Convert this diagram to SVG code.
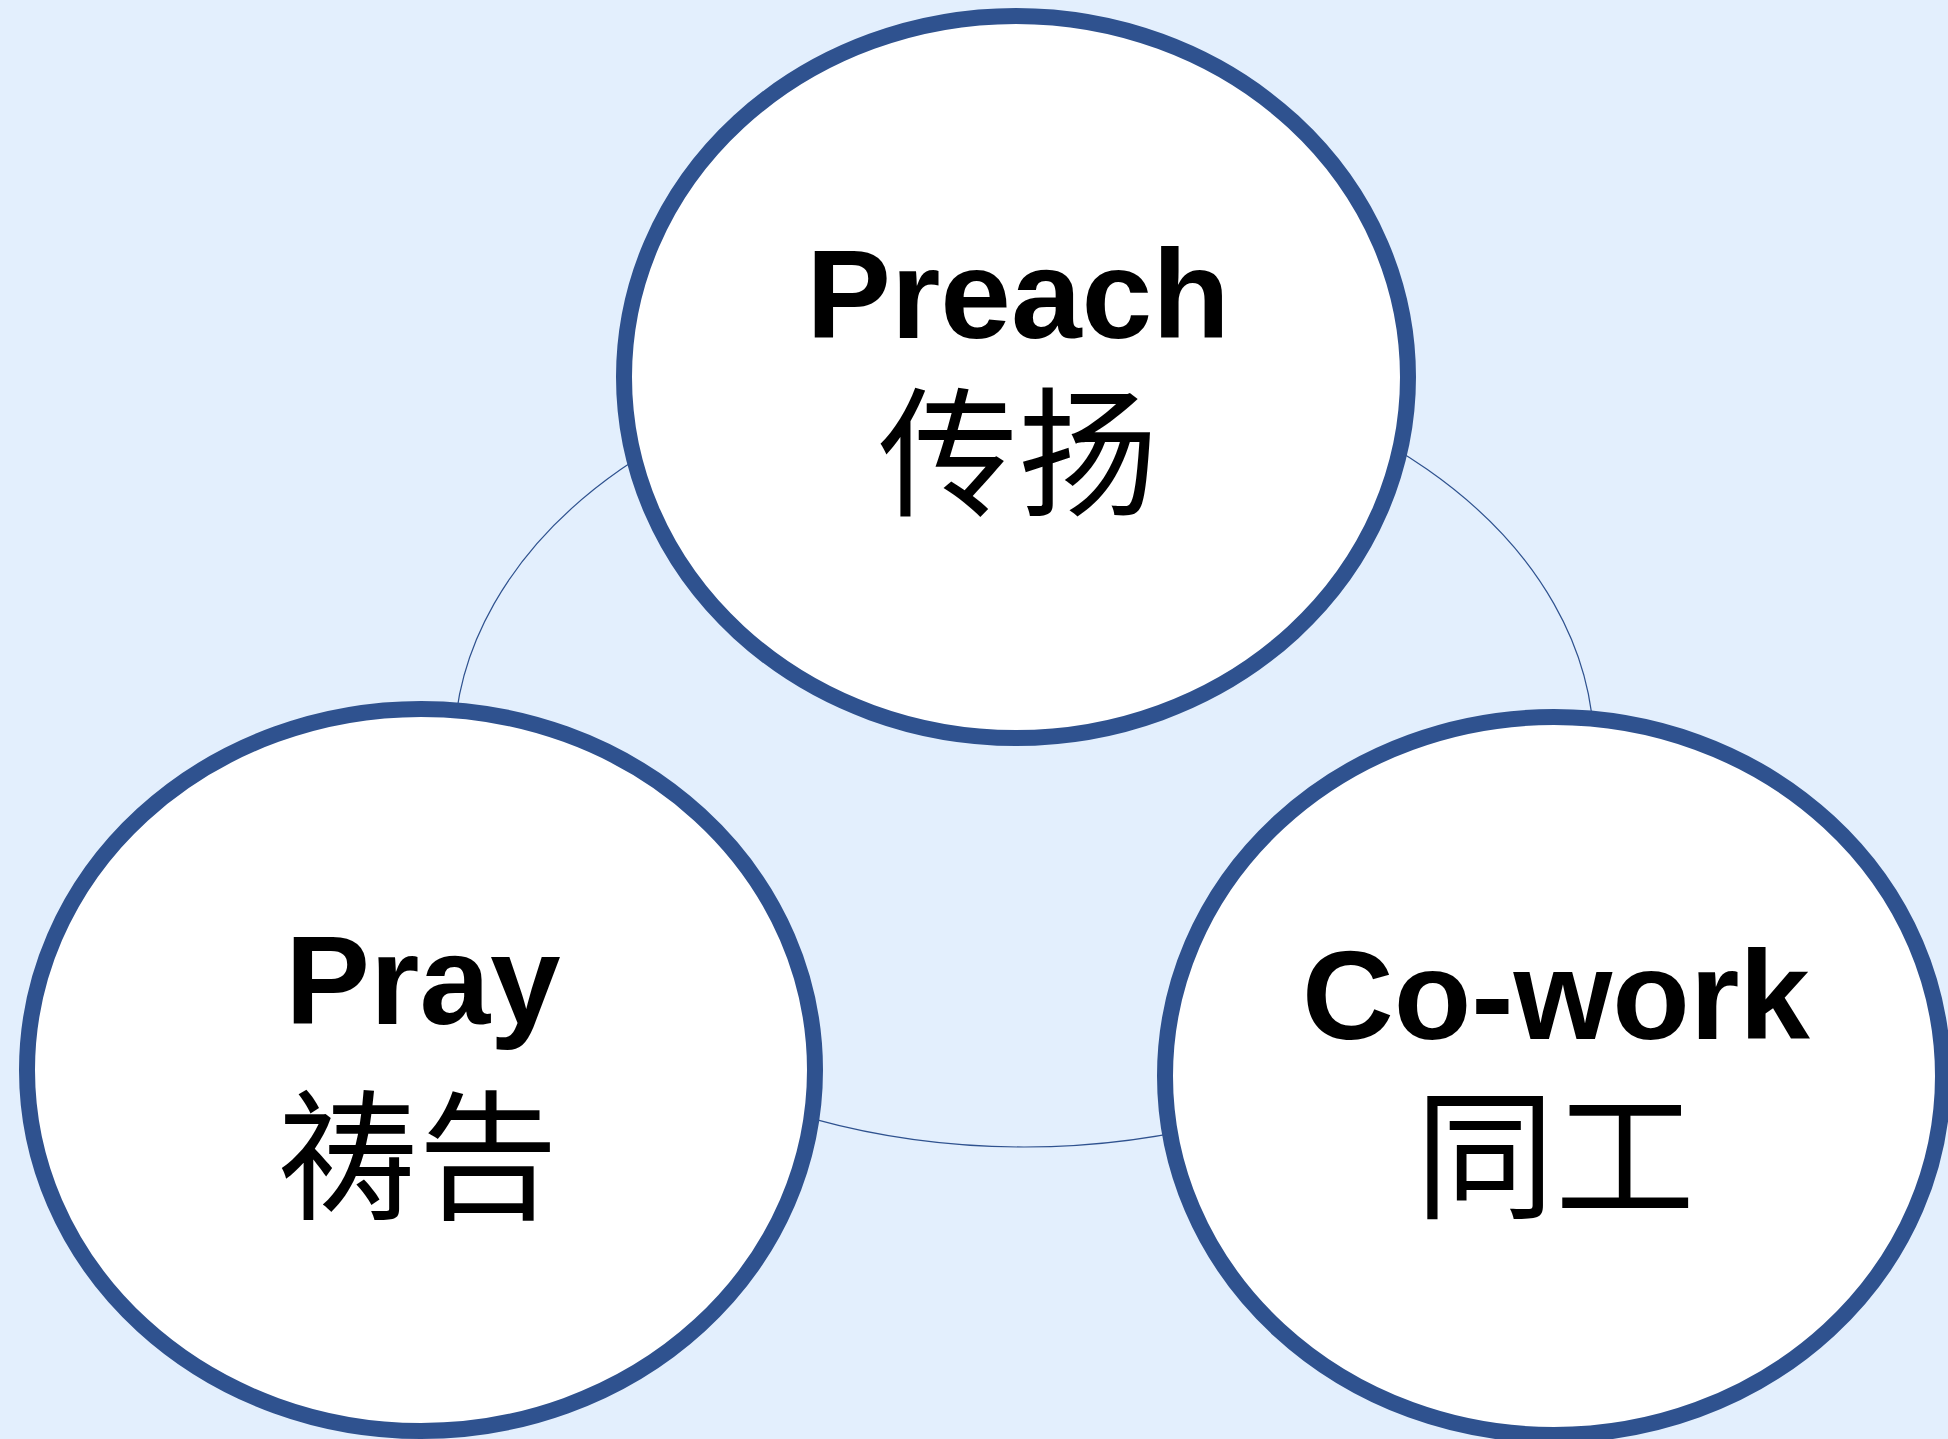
<svg xmlns="http://www.w3.org/2000/svg" width="1948" height="1439" viewBox="0 0 1948 1439">
<style>
.node{fill:#ffffff;stroke:#2F528F;stroke-width:16}
.conn{fill:none;stroke:#2F528F;stroke-width:1.2}
.en{font-family:"Liberation Sans",Arial,sans-serif;font-weight:bold;font-size:127px;fill:#000;text-anchor:middle}
.zh{font-family:"Noto Sans CJK SC","Noto Sans CJK TC",sans-serif;font-size:140px;fill:#000;text-anchor:middle}
</style>
<rect width="1948" height="1439" fill="#E3EFFD"/>
<g id="connectors">
<ellipse class="conn" cx="1024" cy="750" rx="570" ry="397"/>
</g>
<g id="preach">
<ellipse class="node" cx="1016" cy="377" rx="392" ry="361"/>
<text class="en" x="1018" y="338">Preach</text>
<text class="zh" x="1018" y="505">传扬</text>
</g>
<g id="pray">
<ellipse class="node" cx="421" cy="1070" rx="394" ry="361"/>
<text class="en" x="423" y="1024">Pray</text>
<text class="zh" x="418" y="1208">祷告</text>
</g>
<g id="cowork">
<ellipse class="node" cx="1554" cy="1076" rx="389" ry="359"/>
<text class="en" x="1556" y="1039">Co-work</text>
<text class="zh" x="1555" y="1207">同工</text>
</g>
</svg>
